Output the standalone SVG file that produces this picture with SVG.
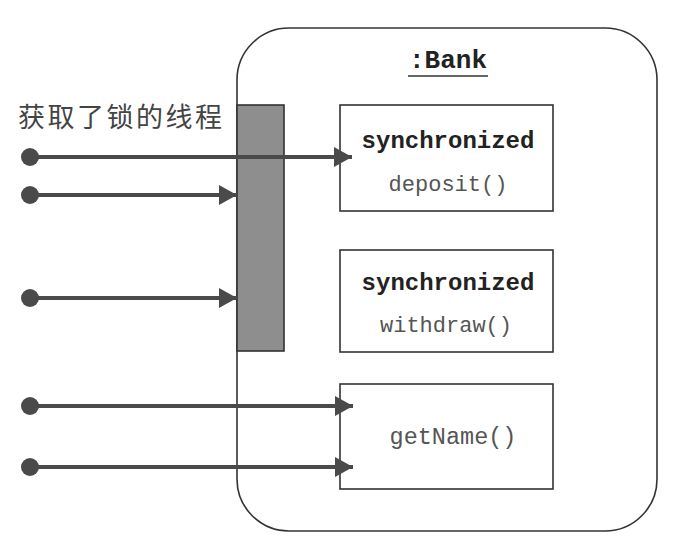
<svg xmlns="http://www.w3.org/2000/svg" width="680" height="556" viewBox="0 0 680 556">
<defs>
<marker id="ah" markerWidth="18" markerHeight="20" refX="18" refY="10" orient="auto" markerUnits="userSpaceOnUse">
<path d="M0,0 L18,10 L0,20 Z" fill="#4a4a4a"/>
</marker>
<style>
.box{fill:#fff;stroke:#333;stroke-width:1.6}
.bold{font-family:"Liberation Mono",monospace;font-weight:bold;font-size:24px;fill:#222;text-anchor:middle}
.mono{font-family:"Liberation Mono",monospace;font-size:22px;fill:#555;text-anchor:middle}
.conn{stroke:#4a4a4a;stroke-width:4;fill:none;marker-end:url(#ah)}
.dot{fill:#4a4a4a}
</style>
</defs>
<rect width="680" height="556" fill="#fff"/>
<g id="bank">
<rect x="237" y="28" width="420" height="503" rx="52" ry="52" fill="#fff" stroke="#333" stroke-width="1.6"/>
<text x="448" y="68" font-family="Liberation Mono, monospace" font-weight="bold" font-size="26" fill="#222" text-anchor="middle">:Bank</text>
<line x1="408" y1="76" x2="488" y2="76" stroke="#333" stroke-width="1.6"/>
</g>
<g id="lock">
<rect x="237" y="105" width="47" height="246" fill="#8e8e8e" stroke="#333" stroke-width="1.6"/>
</g>
<g id="label">
<text x="18" y="127" font-family="Noto Sans CJK SC, sans-serif" font-size="27" letter-spacing="2.5" fill="#444">获取了锁的线程</text>
</g>
<g id="deposit">
<rect class="box" x="340" y="105" width="213" height="106"/>
<text class="bold" x="448" y="148">synchronized</text>
<text class="mono" x="448" y="191">deposit()</text>
</g>
<g id="withdraw">
<rect class="box" x="340" y="250" width="213" height="102"/>
<text class="bold" x="448" y="290">synchronized</text>
<text class="mono" x="446" y="332">withdraw()</text>
</g>
<g id="getName">
<rect class="box" x="340" y="384" width="213" height="105"/>
<text class="mono" x="453" y="444" style="font-size:23.5px">getName()</text>
</g>
<g id="connectors">
<circle class="dot" cx="30" cy="157" r="9"/>
<line class="conn" x1="30" y1="157" x2="352" y2="157"/>
<circle class="dot" cx="30" cy="195" r="9"/>
<line class="conn" x1="30" y1="195" x2="237" y2="195"/>
<circle class="dot" cx="30" cy="298" r="9"/>
<line class="conn" x1="30" y1="298" x2="237" y2="298"/>
<circle class="dot" cx="30" cy="406" r="9"/>
<line class="conn" x1="30" y1="406" x2="353" y2="406"/>
<circle class="dot" cx="30" cy="467" r="9"/>
<line class="conn" x1="30" y1="467" x2="353" y2="467"/>
</g>
</svg>
